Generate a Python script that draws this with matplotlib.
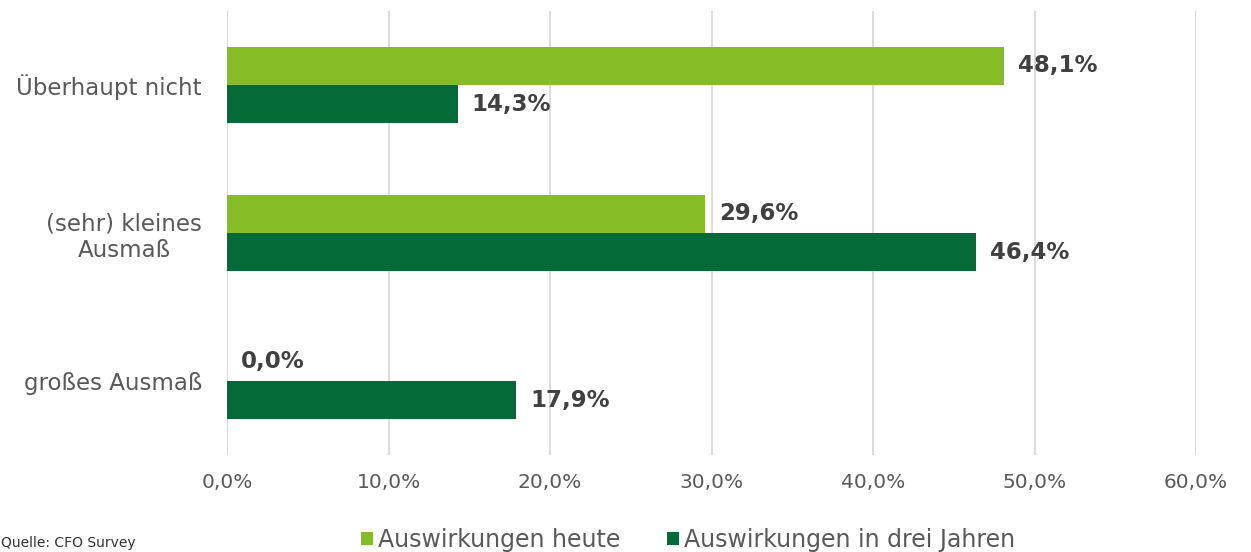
import numpy as np
import matplotlib.pyplot as plt

categories = ["großes Ausmaß", "(sehr) kleines\nAusmaß", "Überhaupt nicht"]
heute = [0.0, 29.6, 48.1]
drei_jahre = [17.9, 46.4, 14.3]
series_names = ["Auswirkungen heute", "Auswirkungen in drei Jahren"]
xticks = [0, 10, 20, 30, 40, 50, 60]

light, dark = "#86bc25", "#046a38"
grey = "#595959"

plt.rcParams["font.family"] = "DejaVu Sans"
fig = plt.figure(figsize=(12.51, 5.52), dpi=100)
ax = fig.add_axes([227 / 1251, 1 - 455 / 552, (1196 - 227) / 1251, 444 / 552])

y = np.arange(len(categories))
h = 0.26
b1 = ax.barh(y + h / 2, heute, height=h, color=light, label=series_names[0], zorder=3)
b2 = ax.barh(y - h / 2, drei_jahre, height=h, color=dark, label=series_names[1], zorder=3)

for bars, vals in [(b1, heute), (b2, drei_jahre)]:
    for bar, v in zip(bars, vals):
        ax.annotate(f"{v:.1f}%".replace(".", ","),
                    (bar.get_width(), bar.get_y() + bar.get_height() / 2),
                    xytext=(10, 0), textcoords="offset points", va="center", ha="left",
                    fontsize=16.5, fontweight="bold", color="#404040")

ax.set_xlim(0, 60)
ax.set_ylim(-0.5, 2.5)
ax.set_xticks(xticks)
ax.set_xticklabels([f"{t:.1f}%".replace(".", ",") for t in xticks], fontsize=14.5, color=grey)
ax.set_yticks(y)
ax.set_yticklabels(categories, fontsize=16.5, color=grey, multialignment="center")
ax.tick_params(axis="both", length=0)
ax.tick_params(axis="x", pad=13)
ax.tick_params(axis="y", pad=18)
ax.grid(axis="x", color="#d9d9d9", linewidth=1.3, zorder=0)
for s in ax.spines.values():
    s.set_visible(False)

fig.legend(handles=[b1, b2], loc="center", bbox_to_anchor=(688 / 1251, 1 - 540 / 552),
           ncol=2, frameon=False, fontsize=17, handlelength=0.5, handleheight=0.5,
           handletextpad=0.2, columnspacing=2.0, labelcolor=grey, borderpad=0.2)
fig.text(0.001, 0.003, "Quelle: CFO Survey", fontsize=10, color="#333333", ha="left", va="bottom")

fig.savefig("out.png", dpi=100)
